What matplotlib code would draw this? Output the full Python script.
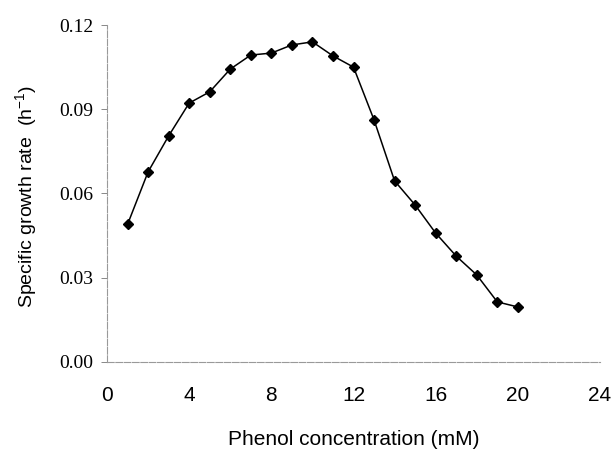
import matplotlib
matplotlib.use("Agg")
import matplotlib.pyplot as plt

# phenol concentration (mM) vs specific growth rate (1/h)
phenol = [1, 2, 3, 4, 5, 6, 7, 8, 9, 10, 11, 12, 13, 14, 15, 16, 17, 18, 19, 20]
growth = [0.049, 0.0677, 0.0805, 0.0922, 0.0962, 0.1043, 0.1093, 0.110, 0.1129, 0.114,
          0.109, 0.105, 0.0862, 0.0645, 0.0559, 0.0459, 0.0377, 0.031, 0.0214, 0.0196]

xticks = [0, 4, 8, 12, 16, 20, 24]
yticks = [0.00, 0.03, 0.06, 0.09, 0.12]
ytick_labels = ["0.00", "0.03", "0.06", "0.09", "0.12"]

fig = plt.figure(figsize=(6.15, 4.53), dpi=100)
ax = fig.add_axes([0.174, 0.2009, 0.8016, 0.7439])

ax.plot(phenol, growth, color="black", lw=1.1, marker="D", ms=5.5, mfc="black", mec="black")

ax.set_xlim(0, 24)
ax.set_ylim(0, 0.12)
ax.set_xticks(xticks)
ax.set_yticks(yticks)
ax.set_yticklabels(ytick_labels, family="Liberation Serif", fontsize=14)
ax.set_xticklabels([str(t) for t in xticks], family="Liberation Sans", fontsize=15)
ax.tick_params(axis="x", length=0, pad=17)
ax.tick_params(axis="y", direction="out", length=4, width=0.7, color="#888888", pad=6)

for side in ["top", "right"]:
    ax.spines[side].set_visible(False)
for side in ["left", "bottom"]:
    ax.spines[side].set_color("#999999")
    ax.spines[side].set_linewidth(0.8)
    ax.spines[side].set_linestyle((0, (6, 1.5)))

ax.set_xlabel("Phenol concentration (mM)", family="Liberation Sans", fontsize=15, labelpad=18)
ax.set_ylabel("Specific growth rate  (h$^{\\mathregular{-1}}$)", family="Liberation Sans",
              fontsize=14, labelpad=15)
ax.yaxis.set_label_coords(-0.135, 0.49)

fig.savefig("out.png", dpi=100)
